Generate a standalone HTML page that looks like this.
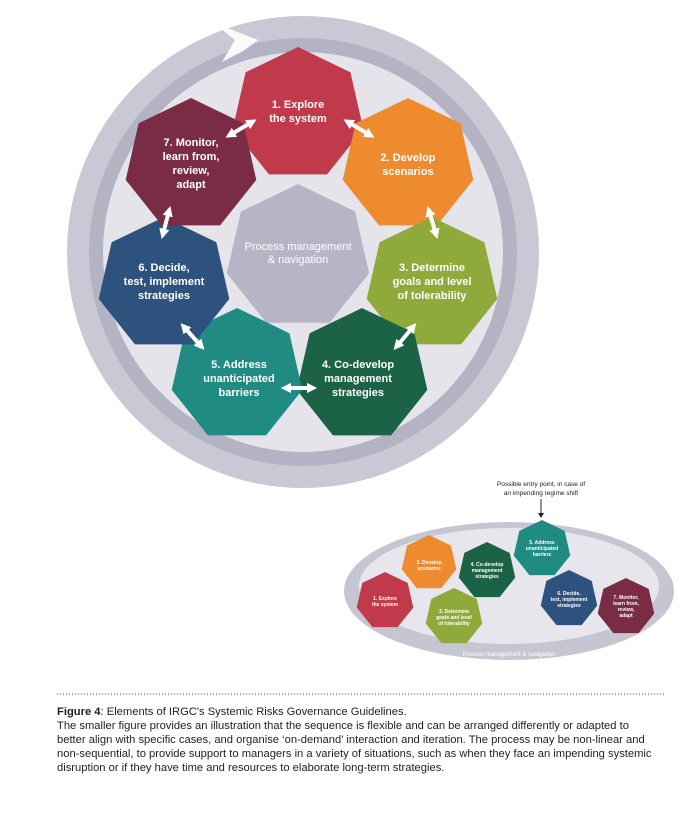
<!DOCTYPE html>
<html><head><meta charset="utf-8"><style>
body{margin:0;background:#fff;width:690px;height:813px;overflow:hidden;font-family:"Liberation Sans",sans-serif}
.cap{position:absolute;left:57px;top:705px;width:630px;font-size:11.2px;line-height:14px;color:#222;white-space:nowrap}
</style></head><body>
<svg width="690" height="813" style="position:absolute;left:0;top:0" font-family="Liberation Sans, sans-serif">
<defs>
<polygon id="h" points="0,-1 0.7818,-0.6235 0.9749,0.2225 0.4339,0.9010 -0.4339,0.9010 -0.9749,0.2225 -0.7818,-0.6235"/>
<marker id="a" viewBox="0 0 10 10" refX="5" refY="5" markerWidth="2.6" markerHeight="2.6" orient="auto-start-reverse"><path d="M0,0 L10,5 L0,10z" fill="#fff"/></marker>
</defs>
<circle cx="303" cy="252" r="236" fill="#c9c9d5"/>
<circle cx="303" cy="252" r="214" fill="#b3b3c3"/>
<circle cx="303" cy="252" r="200" fill="#e4e4ea"/>
<path d="M212,22 L235,40 L222,62 L245,50 L258,40 Z" fill="#fff" opacity="0.9"/>
<g fill="#b5b5c5"><use href="#h" transform="translate(298,257) scale(73)"/></g>
<use href="#h" fill="#c13a4b" transform="translate(298,114) scale(67)"/>
<use href="#h" fill="#ee8b2f" transform="translate(408,165) scale(67)"/>
<use href="#h" fill="#8fa93a" transform="translate(432,284) scale(67)"/>
<use href="#h" fill="#1b6246" transform="translate(362,375) scale(67)"/>
<use href="#h" fill="#1f8b83" transform="translate(237,375) scale(67)"/>
<use href="#h" fill="#2e527e" transform="translate(164,284) scale(67)"/>
<use href="#h" fill="#7a2c45" transform="translate(191,165) scale(67)"/>
<g stroke="#fff" stroke-width="4" marker-start="url(#a)" marker-end="url(#a)">
<line x1="230" y1="135" x2="252" y2="122"/><line x1="348" y1="122" x2="370" y2="135"/>
<line x1="429" y1="211" x2="436" y2="234"/><line x1="413" y1="327" x2="397" y2="346"/>
<line x1="286" y1="388" x2="312" y2="388"/><line x1="184" y1="327" x2="201" y2="346"/>
<line x1="169" y1="211" x2="163" y2="234"/>
</g>
<g fill="#fff" font-weight="bold" font-size="11" text-anchor="middle">
<text x="298" y="108">1. Explore</text><text x="298" y="122">the system</text>
<text x="408" y="161">2. Develop</text><text x="408" y="175">scenarios</text>
<text x="432" y="271">3. Determine</text><text x="432" y="285">goals and level</text><text x="432" y="299">of tolerability</text>
<text x="358" y="368">4. Co-develop</text><text x="358" y="382">management</text><text x="358" y="396">strategies</text>
<text x="239" y="368">5. Address</text><text x="239" y="382">unanticipated</text><text x="239" y="396">barriers</text>
<text x="164" y="271">6. Decide,</text><text x="164" y="285">test, implement</text><text x="164" y="299">strategies</text>
<text x="191" y="146">7. Monitor,</text><text x="191" y="160">learn from,</text><text x="191" y="174">review,</text><text x="191" y="188">adapt</text>
<text x="298" y="250" font-weight="normal" font-size="11">Process management</text><text x="298" y="263" font-weight="normal" font-size="11">&amp; navigation</text>
</g>
<ellipse cx="509" cy="591" rx="165" ry="69" fill="#c6c6d2"/>
<ellipse cx="509" cy="586" rx="150" ry="58" fill="#e6e6ec"/>
<text x="509" y="656" font-size="6" fill="#fff" text-anchor="middle">Process management &amp; navigation</text>
<use href="#h" fill="#c13a4b" transform="translate(385,601) scale(29)"/>
<use href="#h" fill="#ee8b2f" transform="translate(429,563) scale(28)"/>
<use href="#h" fill="#8fa93a" transform="translate(454,617) scale(29)"/>
<use href="#h" fill="#1b6246" transform="translate(487,571) scale(29)"/>
<use href="#h" fill="#1f8b83" transform="translate(542,549) scale(29)"/>
<use href="#h" fill="#2e527e" transform="translate(569,599) scale(29)"/>
<use href="#h" fill="#7a2c45" transform="translate(626,607) scale(29)"/>
<g fill="#fff" font-weight="bold" font-size="5" text-anchor="middle">
<text x="385" y="600">1. Explore</text><text x="385" y="606">the system</text>
<text x="429" y="564">2. Develop</text><text x="429" y="570">scenarios</text>
<text x="454" y="613">3. Determine</text><text x="454" y="619">goals and level</text><text x="454" y="625">of tolerability</text>
<text x="487" y="566">4. Co-develop</text><text x="487" y="572">management</text><text x="487" y="578">strategies</text>
<text x="542" y="544">5. Address</text><text x="542" y="550">unanticipated</text><text x="542" y="556">barriers</text>
<text x="569" y="595">6. Decide,</text><text x="569" y="601">test, implement</text><text x="569" y="607">strategies</text>
<text x="626" y="599">7. Monitor,</text><text x="626" y="605">learn from,</text><text x="626" y="611">review,</text><text x="626" y="617">adapt</text>
</g>
<g font-size="6.5" fill="#222" text-anchor="middle">
<text x="541" y="486">Possible entry point, in case of</text>
<text x="541" y="495">an impending regime shift</text>
</g>
<line x1="541" y1="499" x2="541" y2="514" stroke="#222" stroke-width="1"/>
<path d="M538,513 L544,513 L541,518z" fill="#222"/>
<line x1="57" y1="694" x2="665" y2="694" stroke="#444" stroke-width="1" stroke-dasharray="1,2"/>
</svg>
<div class="cap"><b>Figure 4</b>: Elements of IRGC's Systemic Risks Governance Guidelines.<br>The smaller figure provides an illustration that the sequence is flexible and can be arranged differently or adapted to<br>better align with specific cases, and organise ‘on-demand’ interaction and iteration. The process may be non-linear and<br>non-sequential, to provide support to managers in a variety of situations, such as when they face an impending systemic<br>disruption or if they have time and resources to elaborate long-term strategies.</div>
</body></html>
